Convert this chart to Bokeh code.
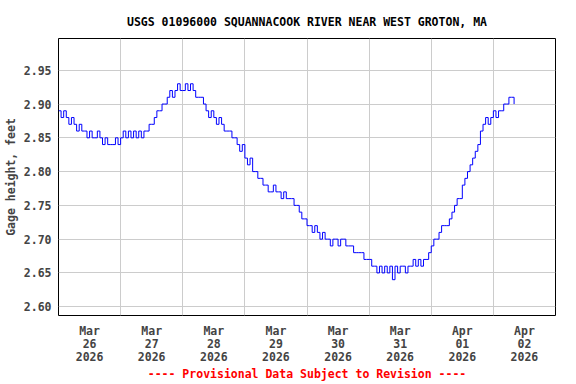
from bokeh.plotting import figure
from bokeh.models import FixedTicker, Range1d, ColumnDataSource, NumeralTickFormatter
from bokeh.embed import file_html
from bokeh.resources import INLINE

# Gage height (feet), hourly readings starting 2026-03-26 00:00
gage = [
    2.89, 2.88, 2.89, 2.88, 2.87, 2.88, 2.87, 2.86, 2.87, 2.86,
    2.86, 2.85, 2.86, 2.85, 2.85, 2.86, 2.85, 2.84, 2.85, 2.84,
    2.84, 2.84, 2.85, 2.84, 2.85, 2.86, 2.85, 2.86, 2.85, 2.86,
    2.85, 2.86, 2.85, 2.86, 2.86, 2.87, 2.87, 2.88, 2.89, 2.89,
    2.90, 2.90, 2.91, 2.92, 2.91, 2.92, 2.93, 2.92, 2.92, 2.93,
    2.92, 2.93, 2.92, 2.91, 2.91, 2.91, 2.90, 2.89, 2.88, 2.89,
    2.88, 2.87, 2.88, 2.87, 2.86, 2.86, 2.86, 2.85, 2.85, 2.84,
    2.83, 2.84, 2.82, 2.81, 2.82, 2.80, 2.80, 2.79, 2.79, 2.78,
    2.78, 2.77, 2.77, 2.78, 2.77, 2.77, 2.76, 2.77, 2.76, 2.76,
    2.76, 2.75, 2.75, 2.74, 2.73, 2.73, 2.72, 2.72, 2.71, 2.72,
    2.71, 2.70, 2.71, 2.70, 2.70, 2.69, 2.70, 2.70, 2.69, 2.70,
    2.70, 2.69, 2.69, 2.69, 2.68, 2.68, 2.68, 2.68, 2.67, 2.67,
    2.67, 2.66, 2.66, 2.65, 2.66, 2.65, 2.66, 2.65, 2.66, 2.64,
    2.66, 2.65, 2.66, 2.66, 2.65, 2.66, 2.66, 2.67, 2.66, 2.67,
    2.66, 2.67, 2.67, 2.68, 2.69, 2.70, 2.70, 2.71, 2.72, 2.72,
    2.72, 2.73, 2.74, 2.75, 2.76, 2.76, 2.78, 2.79, 2.80, 2.81,
    2.82, 2.83, 2.84, 2.86, 2.87, 2.88, 2.87, 2.88, 2.89, 2.88,
    2.89, 2.89, 2.90, 2.90, 2.91, 2.91, 2.90,
]
hours = list(range(len(gage)))  # hours since 2026-03-26 00:00

day_centers = [12, 36, 60, 84, 108, 132, 156, 180]
day_labels = ["Mar\n26\n2026", "Mar\n27\n2026", "Mar\n28\n2026", "Mar\n29\n2026",
              "Mar\n30\n2026", "Mar\n31\n2026", "Apr\n01\n2026", "Apr\n02\n2026"]
midnights = [24, 48, 72, 96, 120, 144, 168]
y_ticks = [2.60, 2.65, 2.70, 2.75, 2.80, 2.85, 2.90, 2.95]

FONT = "DejaVu Sans Mono"
FS = "11.5px"

p = figure(width=576, height=384, output_backend="svg", toolbar_location=None,
           x_range=Range1d(0, 192), y_range=Range1d(2.587, 2.997),
           min_border_left=58, min_border_right=21, min_border_top=38,
           min_border_bottom=68)

p.title.text = "USGS 01096000 SQUANNACOOK RIVER NEAR WEST GROTON, MA"
p.title.align = "center"
p.title.text_font = FONT
p.title.text_font_size = FS
p.title.text_font_style = "bold"
p.title.text_color = "black"
p.title.standoff = 19

src = ColumnDataSource(dict(t=hours, h=gage))
p.step("t", "h", source=src, mode="after", line_color="#0000ff", line_width=1)

# x axis
p.xaxis.ticker = FixedTicker(ticks=day_centers)
p.xaxis.major_label_overrides = {c: l for c, l in zip(day_centers, day_labels)}
p.xaxis.major_label_text_font = FONT
p.xaxis.major_label_text_font_size = FS
p.xaxis.major_label_text_font_style = "bold"
p.xaxis.major_label_text_line_height = 0.95
p.xaxis.major_label_standoff = 8
p.xaxis.axis_label = "---- Provisional Data Subject to Revision ----"
p.xaxis.axis_label_text_font = FONT
p.xaxis.axis_label_text_font_size = FS
p.xaxis.axis_label_text_font_style = "bold"
p.xaxis.axis_label_text_color = "#ff0000"
p.xaxis.axis_label_standoff = 0

# y axis
p.yaxis.ticker = FixedTicker(ticks=y_ticks)
p.yaxis.formatter = NumeralTickFormatter(format="0.00")
p.yaxis.major_label_text_font = FONT
p.yaxis.major_label_text_font_size = FS
p.yaxis.major_label_text_font_style = "bold"
p.yaxis.major_label_standoff = 7
p.yaxis.axis_label = "Gage height, feet"
p.yaxis.axis_label_text_font = FONT
p.yaxis.axis_label_text_font_size = FS
p.yaxis.axis_label_text_font_style = "bold"
p.yaxis.axis_label_standoff = 3

for ax in (p.xaxis, p.yaxis):
    ax.axis_line_color = None
    ax.major_tick_line_color = None
    ax.minor_tick_line_color = None
    ax.major_tick_out = 0
    ax.major_tick_in = 0
    ax.minor_tick_out = 0
    ax.minor_tick_in = 0

p.xgrid.ticker = FixedTicker(ticks=midnights)
p.ygrid.ticker = FixedTicker(ticks=y_ticks)
p.grid.grid_line_color = "#cccccc"
p.grid.grid_line_width = 1

p.outline_line_color = "black"
p.outline_line_width = 1
p.background_fill_color = "white"
p.border_fill_color = "white"

open("out.html", "w").write(file_html(p, INLINE))
